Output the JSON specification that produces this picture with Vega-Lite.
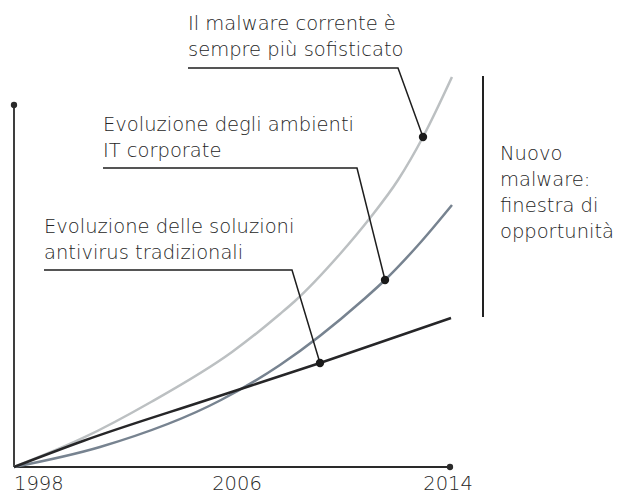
{
  "$schema": "https://vega.github.io/schema/vega-lite/v6.json",
  "width": 624,
  "height": 495,
  "padding": 0,
  "autosize": {"type": "none"},
  "config": {"view": {"stroke": null}, "text": {"font": "DejaVu Sans", "fontWeight": 300}},
  "datasets": {
    "curves": [
      {"s": "malware", "year": 1998, "v": 0},
      {"s": "malware", "year": 2000.532, "v": 7.44},
      {"s": "malware", "year": 2003.028, "v": 16.67},
      {"s": "malware", "year": 2006.0, "v": 29.49},
      {"s": "malware", "year": 2007.761, "v": 39.23},
      {"s": "malware", "year": 2008.312, "v": 42.56},
      {"s": "malware", "year": 2009.963, "v": 54.62},
      {"s": "malware", "year": 2011.064, "v": 63.85},
      {"s": "malware", "year": 2012.092, "v": 73.59},
      {"s": "malware", "year": 2013.009, "v": 84.62},
      {"s": "malware", "year": 2014.073, "v": 100.0},
      {"s": "it", "year": 1998, "v": 0},
      {"s": "it", "year": 2001.156, "v": 5.13},
      {"s": "it", "year": 2005.596, "v": 17.18},
      {"s": "it", "year": 2007.761, "v": 26.15},
      {"s": "it", "year": 2010.807, "v": 42.82},
      {"s": "it", "year": 2011.615, "v": 47.95},
      {"s": "it", "year": 2012.899, "v": 57.44},
      {"s": "it", "year": 2014.073, "v": 67.18},
      {"s": "av", "year": 1998, "v": 0},
      {"s": "av", "year": 2000.532, "v": 6.67},
      {"s": "av", "year": 2005.083, "v": 17.18},
      {"s": "av", "year": 2009.229, "v": 26.67},
      {"s": "av", "year": 2014.037, "v": 38.21}
    ],
    "dots": [
      {"s": "malware", "year": 2013.009, "v": 84.62},
      {"s": "it", "year": 2011.615, "v": 47.95},
      {"s": "av", "year": 2009.229, "v": 26.67}
    ],
    "leaders": [
      {"id": "a", "year": 2004.385, "v": 102.31},
      {"id": "a", "year": 2012.092, "v": 102.31},
      {"id": "a", "year": 2013.009, "v": 84.62},
      {"id": "b", "year": 2001.266, "v": 76.67},
      {"id": "b", "year": 2010.587, "v": 76.67},
      {"id": "b", "year": 2011.615, "v": 47.95},
      {"id": "c", "year": 1999.101, "v": 50.51},
      {"id": "c", "year": 2008.202, "v": 50.51},
      {"id": "c", "year": 2009.229, "v": 26.67}
    ],
    "axes": [
      {"x": 1998, "y": 0, "x2": 2014, "y2": 0},
      {"x": 1998, "y": 0, "x2": 1998, "y2": 92.82}
    ],
    "axisEnds": [
      {"x": 2014, "y": 0},
      {"x": 1998, "y": 92.82}
    ],
    "bracket": [
      {"x": 2015.211, "y": 38.46, "y2": 100.26}
    ],
    "years": [
      {"label": "1998", "x": 1998, "pos": "first"},
      {"label": "2006", "x": 2006.183, "pos": "mid"},
      {"label": "2014", "x": 2013.93, "pos": "mid"}
    ],
    "notes": [
      {"t": "Il malware corrente è", "x": 2004.385, "y": 112.05},
      {"t": "sempre più sofisticato", "x": 2004.385, "y": 105.38},
      {"t": "Evoluzione degli ambienti", "x": 2001.266, "y": 86.15},
      {"t": "IT corporate", "x": 2001.266, "y": 79.49},
      {"t": "Evoluzione delle soluzioni", "x": 1999.101, "y": 60.0},
      {"t": "antivirus tradizionali", "x": 1999.101, "y": 53.33},
      {"t": "Nuovo", "x": 2015.835, "y": 78.72},
      {"t": "malware:", "x": 2015.835, "y": 72.05},
      {"t": "finestra di", "x": 2015.835, "y": 65.38},
      {"t": "opportunità", "x": 2015.835, "y": 58.72}
    ]
  },
  "layer": [
    {
      "data": {"name": "axes"},
      "mark": {"type": "rule", "color": "#2a2a2a", "strokeWidth": 1.8},
      "encoding": {
        "x": {"field": "x", "type": "quantitative", "scale": {"domain": [1997.4862, 2020.3853], "nice": false, "zero": false}, "axis": null},
        "y": {"field": "y", "type": "quantitative", "scale": {"domain": [-7.1795, 119.7436], "nice": false, "zero": false}, "axis": null},
        "x2": {"field": "x2"},
        "y2": {"field": "y2"}
      }
    },
    {
      "data": {"name": "axisEnds"},
      "mark": {"type": "circle", "color": "#2a2a2a", "size": 40, "opacity": 1},
      "encoding": {
        "x": {"field": "x", "type": "quantitative"},
        "y": {"field": "y", "type": "quantitative"}
      }
    },
    {
      "data": {"name": "bracket"},
      "mark": {"type": "rule", "color": "#222222", "strokeWidth": 2},
      "encoding": {
        "x": {"field": "x", "type": "quantitative"},
        "y": {"field": "y", "type": "quantitative"},
        "y2": {"field": "y2"}
      }
    },
    {
      "data": {"name": "curves"},
      "mark": {"type": "line", "interpolate": "monotone", "strokeWidth": 2.5},
      "encoding": {
        "x": {"field": "year", "type": "quantitative"},
        "y": {"field": "v", "type": "quantitative"},
        "color": {"field": "s", "type": "nominal", "scale": {"domain": ["malware", "it", "av"], "range": ["#bcc0c2", "#778390", "#262628"]}, "legend": null}
      }
    },
    {
      "data": {"name": "leaders"},
      "mark": {"type": "line", "color": "#1e1e1e", "strokeWidth": 1.5},
      "encoding": {
        "x": {"field": "year", "type": "quantitative"},
        "y": {"field": "v", "type": "quantitative"},
        "detail": {"field": "id", "type": "nominal"}
      }
    },
    {
      "data": {"name": "dots"},
      "mark": {"type": "circle", "color": "#1a1a1a", "size": 70, "opacity": 1},
      "encoding": {
        "x": {"field": "year", "type": "quantitative"},
        "y": {"field": "v", "type": "quantitative"}
      }
    },
    {
      "data": {"name": "notes"},
      "mark": {"type": "text", "align": "left", "baseline": "alphabetic", "fontSize": 19.5, "color": "#262626"},
      "encoding": {
        "x": {"field": "x", "type": "quantitative"},
        "y": {"field": "y", "type": "quantitative"},
        "text": {"field": "t"}
      }
    },
    {
      "data": {"name": "years"},
      "transform": [{"filter": "datum.pos == 'first'"}],
      "mark": {"type": "text", "align": "left", "baseline": "alphabetic", "fontSize": 19.5, "color": "#262626"},
      "encoding": {
        "x": {"field": "x", "type": "quantitative"},
        "y": {"datum": -5.9, "type": "quantitative"},
        "text": {"field": "label"}
      }
    },
    {
      "data": {"name": "years"},
      "transform": [{"filter": "datum.pos == 'mid'"}],
      "mark": {"type": "text", "align": "center", "baseline": "alphabetic", "fontSize": 19.5, "color": "#262626"},
      "encoding": {
        "x": {"field": "x", "type": "quantitative"},
        "y": {"datum": -5.9, "type": "quantitative"},
        "text": {"field": "label"}
      }
    }
  ]
}
